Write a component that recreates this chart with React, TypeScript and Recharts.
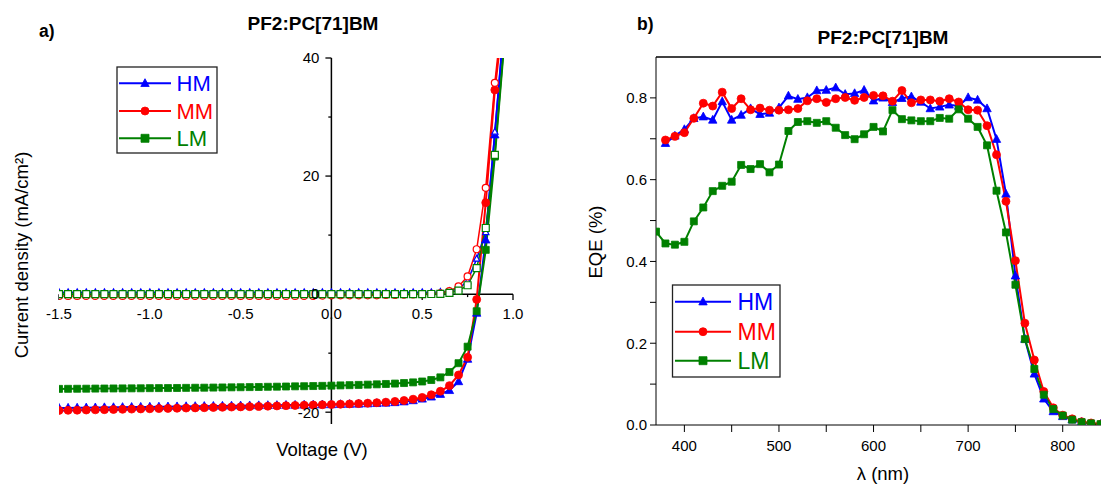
import React from 'react';
import { LineChart, Line, XAxis, YAxis, ReferenceLine } from 'recharts';

// ---- a) J-V curves ----
const voltage = [
  -1.5, -1.45, -1.4, -1.35, -1.3, -1.25, -1.2, -1.15, -1.1, -1.05,
  -1.0, -0.95, -0.9, -0.85, -0.8, -0.75, -0.7, -0.65, -0.6, -0.55,
  -0.5, -0.45, -0.4, -0.35, -0.3, -0.25, -0.2, -0.15, -0.1, -0.05,
  0.0, 0.05, 0.1, 0.15, 0.2, 0.25, 0.3, 0.35, 0.4, 0.45,
  0.5, 0.55, 0.6, 0.65, 0.7, 0.75, 0.8, 0.85, 0.9, 0.95,
];
const hmLight = [
  -19.3, -19.28, -19.26, -19.24, -19.22, -19.2, -19.18, -19.16, -19.14, -19.12,
  -19.1, -19.08, -19.06, -19.04, -19.02, -19.0, -18.98, -18.96, -18.94, -18.92,
  -18.9, -18.88, -18.86, -18.84, -18.82, -18.8, -18.78, -18.76, -18.74, -18.72,
  -18.7, -18.67, -18.64, -18.6, -18.55, -18.5, -18.43, -18.35, -18.22, -18.02,
  -17.75, -17.4, -16.95, -16.3, -14.8, -11.0, -3.2, 9.2, 27.0, 45.0,
];
const mmLight = [
  -19.7, -19.68, -19.66, -19.63, -19.6, -19.57, -19.54, -19.51, -19.48, -19.45,
  -19.42, -19.39, -19.36, -19.33, -19.3, -19.27, -19.24, -19.2, -19.17, -19.13,
  -19.1, -19.06, -19.02, -18.98, -18.94, -18.9, -18.86, -18.82, -18.78, -18.74,
  -18.7, -18.65, -18.6, -18.54, -18.47, -18.39, -18.3, -18.18, -18.02, -17.8,
  -17.5, -17.05, -16.45, -15.5, -13.7, -10.7, -0.9, 15.5, 34.6, 48.0,
];
const lmLight = [
  -16.05, -16.04, -16.03, -16.02, -16.0, -15.99, -15.98, -15.97, -15.96, -15.95,
  -15.93, -15.92, -15.91, -15.9, -15.88, -15.86, -15.85, -15.83, -15.81, -15.79,
  -15.77, -15.75, -15.73, -15.7, -15.68, -15.65, -15.62, -15.6, -15.57, -15.54,
  -15.5, -15.46, -15.42, -15.38, -15.33, -15.28, -15.22, -15.15, -15.06, -14.95,
  -14.8, -14.55, -14.1, -13.2, -11.7, -8.9, -2.9, 7.5, 23.3, 41.8,
];
const hmDark = [
  0.3, 0.3, 0.3, 0.3, 0.3, 0.3, 0.3, 0.3, 0.3, 0.3,
  0.3, 0.3, 0.3, 0.3, 0.3, 0.3, 0.3, 0.3, 0.3, 0.3,
  0.3, 0.3, 0.3, 0.3, 0.3, 0.3, 0.3, 0.3, 0.3, 0.3,
  0.3, 0.3, 0.3, 0.3, 0.3, 0.3, 0.3, 0.3, 0.3, 0.3,
  0.3, 0.3, 0.35, 0.5, 0.9, 2.2, 6.0, 10.5, 27.5, 46.0,
];
const mmDark = [
  -0.3, -0.3, -0.3, -0.3, -0.3, -0.3, -0.3, -0.3, -0.3, -0.3,
  -0.3, -0.3, -0.3, -0.3, -0.3, -0.3, -0.3, -0.3, -0.3, -0.3,
  -0.3, -0.3, -0.3, -0.3, -0.3, -0.3, -0.3, -0.3, -0.3, -0.25,
  -0.2, -0.2, -0.2, -0.2, -0.2, -0.2, -0.15, -0.15, -0.1, -0.05,
  0.0, 0.05, 0.15, 0.5, 1.3, 3.0, 7.6, 18.0, 35.8, 50.0,
];
const lmDark = [
  0.0, 0.0, 0.0, 0.0, 0.0, 0.0, 0.0, 0.0, 0.0, 0.0,
  0.0, 0.0, 0.0, 0.0, 0.0, 0.0, 0.0, 0.0, 0.0, 0.0,
  0.0, 0.0, 0.0, 0.0, 0.0, 0.0, 0.0, 0.0, 0.0, 0.0,
  0.0, 0.0, 0.0, 0.0, 0.0, 0.0, 0.0, 0.0, 0.0, 0.0,
  0.0, 0.02, 0.05, 0.2, 0.6, 1.5, 4.4, 11.2, 23.6, 42.0,
];
const jvXTicks = [-1.5, -1.0, -0.5, 0.0, 0.5, 1.0];
const jvXMinor = [-1.25, -0.75, -0.25, 0.25, 0.75];
const jvYTicks = [40, 20, 0, -20];
const jvYMinor = [30, 10, -10];

// ---- b) EQE spectra ----
const wavelength = [
  370, 380, 390, 400, 410, 420, 430, 440, 450, 460, 470, 480, 490, 500, 510, 520,
  530, 540, 550, 560, 570, 580, 590, 600, 610, 620, 630, 640, 650, 660, 670, 680,
  690, 700, 710, 720, 730, 740, 750, 760, 770, 780, 790, 800, 810, 820, 830, 840,
];
const hmEqe = [
  null, 0.689, 0.707, 0.723, 0.75, 0.754, 0.746, 0.791, 0.746, 0.758, 0.774, 0.76, 0.763, 0.776, 0.805, 0.797,
  0.801, 0.818, 0.819, 0.825, 0.809, 0.811, 0.819, 0.793, 0.8, 0.789, 0.799, 0.803, 0.79, 0.774, 0.778, 0.783,
  0.78, 0.801, 0.795, 0.774, 0.699, 0.565, 0.365, 0.21, 0.125, 0.064, 0.033, 0.021, 0.013, 0.007, 0.003, 0.002,
];
const mmEqe = [
  null, 0.697, 0.706, 0.715, 0.75, 0.787, 0.78, 0.814, 0.774, 0.798, 0.771, 0.775, 0.77, 0.77, 0.771, 0.774,
  0.793, 0.798, 0.789, 0.798, 0.801, 0.794, 0.801, 0.806, 0.805, 0.792, 0.818, 0.788, 0.795, 0.795, 0.792, 0.798,
  0.79, 0.771, 0.77, 0.732, 0.661, 0.547, 0.402, 0.249, 0.159, 0.082, 0.042, 0.024, 0.015, 0.008, 0.005, 0.002,
];
const lmEqe = [
  0.473, 0.444, 0.441, 0.448, 0.498, 0.532, 0.572, 0.585, 0.595, 0.636, 0.626, 0.638, 0.618, 0.637, 0.719, 0.741,
  0.743, 0.739, 0.743, 0.727, 0.709, 0.699, 0.711, 0.729, 0.718, 0.77, 0.748, 0.745, 0.743, 0.743, 0.751, 0.749,
  0.772, 0.749, 0.729, 0.684, 0.573, 0.471, 0.343, 0.21, 0.137, 0.074, 0.039, 0.023, 0.013, 0.007, 0.004, 0.002,
];
const eqeXTicks = [400, 450, 500, 550, 600, 650, 700, 750, 800, 850];
const eqeYTicks = [0, 0.1, 0.2, 0.3, 0.4, 0.5, 0.6, 0.7, 0.8];

const seriesNames = ['HM', 'MM', 'LM'];

const BLUE = '#0000ff';
const RED = '#ff0000';
const GREEN = '#008000';
const FONT = '"Liberation Sans", Arial, Helvetica, sans-serif';

type Shape = 'triangle' | 'circle' | 'square';
const seriesStyle: [string, Shape][] = [[BLUE, 'triangle'], [RED, 'circle'], [GREEN, 'square']];

const markerPath = (shape: Shape, cx: number, cy: number, s: number) => {
  const h = s / 2;
  if (shape === 'square') return `M${cx - h},${cy - h}h${s}v${s}h${-s}Z`;
  if (shape === 'triangle') return `M${cx},${cy - h * 1.15}L${cx + h * 1.05},${cy + h * 0.8}L${cx - h * 1.05},${cy + h * 0.8}Z`;
  return `M${cx - h},${cy}a${h},${h} 0 1,0 ${s},0a${h},${h} 0 1,0 ${-s},0`;
};

const makeDot = (shape: Shape, color: string, filled: boolean, size: number) => (p: any) => {
  const { cx, cy, index, value } = p;
  if (cx == null || cy == null || value == null) return <g key={`e-${index}`} />;
  return (
    <path
      key={`m-${index}`}
      d={markerPath(shape, cx, cy, size)}
      fill={filled ? color : '#fff'}
      stroke={color}
      strokeWidth={filled ? 0.8 : 1.2}
    />
  );
};

const jvData = voltage.map((v, i) => ({
  v,
  hmLight: hmLight[i],
  mmLight: mmLight[i],
  lmLight: lmLight[i],
  hmDark: hmDark[i],
  mmDark: mmDark[i],
  lmDark: lmDark[i],
}));

const eqeData = wavelength.map((w, i) => ({ w, hm: hmEqe[i], mm: mmEqe[i], lm: lmEqe[i] }));

// legend drawn as a small svg group: box, sample line + marker, coloured name
const LegendBox = ({ x, y, w, h, lineX1, lineX2, textX, rowY, fontSize }: any) => (
  <g>
    <rect x={x} y={y} width={w} height={h} fill="#fff" stroke="#222" strokeWidth={1.3} />
    {seriesNames.map((name, i) => {
      const [color, shape] = seriesStyle[i];
      const ly = rowY[i];
      return (
        <g key={name}>
          <line x1={lineX1} y1={ly} x2={lineX2} y2={ly} stroke={color} strokeWidth={2} />
          <path d={markerPath(shape, (lineX1 + lineX2) / 2, ly, 8)} fill={color} stroke={color} strokeWidth={0.8} />
          <text x={textX} y={ly + fontSize * 0.358} fill={color} fontSize={fontSize} fontFamily={FONT}>{name}</text>
        </g>
      );
    })}
  </g>
);

const tickLabel = (value: string, position: 'bottom' | 'left') => ({
  value, position, offset: position === 'bottom' ? 8 : 6, fill: '#000', fontSize: 15, fontFamily: FONT,
});

export default function App() {
  return (
    <div style={{ position: 'fixed', left: 0, top: 0, width: 1101, height: 485, overflow: 'hidden', background: '#fff' }}>
      {/* a) J-V */}
      <div style={{ position: 'absolute', left: 0, top: 0 }}>
        <LineChart width={550} height={485} data={jvData} margin={{ top: 58, right: 37, bottom: 61, left: 59 }}>
          <XAxis dataKey="v" type="number" domain={[-1.5, 1.0]} hide allowDataOverflow />
          <YAxis type="number" domain={[-22, 40]} hide allowDataOverflow />
          <ReferenceLine y={0} stroke="#000" strokeWidth={1.5} />
          <ReferenceLine x={0} stroke="#000" strokeWidth={1.5} />
          {jvXTicks.map(t => (
            <ReferenceLine key={`xt${t}`} segment={[{ x: t, y: 0 }, { x: t, y: -1.0 }]} stroke="#000" strokeWidth={1.3}
              label={tickLabel(t.toFixed(1), 'bottom')} />
          ))}
          {jvXMinor.map(t => (
            <ReferenceLine key={`xm${t}`} segment={[{ x: t, y: 0 }, { x: t, y: -0.5 }]} stroke="#000" strokeWidth={1.3} />
          ))}
          {jvYTicks.map(t => (
            <ReferenceLine key={`yt${t}`} segment={[{ x: 0, y: t }, { x: -0.033, y: t }]} stroke="#000" strokeWidth={1.3}
              label={tickLabel(String(t), 'left')} />
          ))}
          {jvYMinor.map(t => (
            <ReferenceLine key={`ym${t}`} segment={[{ x: 0, y: t }, { x: -0.017, y: t }]} stroke="#000" strokeWidth={1.3} />
          ))}
          <Line dataKey="hmLight" stroke={BLUE} strokeWidth={2} dot={makeDot('triangle', BLUE, true, 8)} isAnimationActive={false} />
          <Line dataKey="mmLight" stroke={RED} strokeWidth={2} dot={makeDot('circle', RED, true, 8)} isAnimationActive={false} />
          <Line dataKey="lmLight" stroke={GREEN} strokeWidth={2} dot={makeDot('square', GREEN, true, 7)} isAnimationActive={false} />
          <Line dataKey="hmDark" stroke={BLUE} strokeWidth={1.5} dot={makeDot('triangle', BLUE, false, 6)} isAnimationActive={false} />
          <Line dataKey="mmDark" stroke={RED} strokeWidth={1.5} dot={makeDot('circle', RED, false, 7)} isAnimationActive={false} />
          <Line dataKey="lmDark" stroke={GREEN} strokeWidth={1.5} dot={makeDot('square', GREEN, false, 7)} isAnimationActive={false} />
        </LineChart>
      </div>

      {/* b) EQE */}
      <div style={{ position: 'absolute', left: 550, top: 0 }}>
        <LineChart width={575} height={485} data={eqeData} margin={{ top: 57, right: 15, bottom: 30, left: 46 }}>
          <XAxis dataKey="w" type="number" domain={[370, 850]} ticks={eqeXTicks} allowDataOverflow
            height={30} stroke="#000" tickSize={7} tickMargin={8}
            tick={{ fill: '#000', fontSize: 15, fontFamily: FONT }}
            tickFormatter={(v: number) => (v % 100 === 0 ? String(v) : '')} />
          <YAxis type="number" domain={[0, 0.9]} ticks={eqeYTicks} allowDataOverflow
            width={60} stroke="#000" tickSize={6} tickMargin={3}
            tick={{ fill: '#000', fontSize: 15, fontFamily: FONT }}
            tickFormatter={(v: number) => (Math.round(v * 10) % 2 === 0 ? v.toFixed(1) : '')} />
          <ReferenceLine y={0.9} stroke="#000" strokeWidth={1.3} />
          <Line dataKey="hm" stroke={BLUE} strokeWidth={2} dot={makeDot('triangle', BLUE, true, 8)} isAnimationActive={false} />
          <Line dataKey="mm" stroke={RED} strokeWidth={2} dot={makeDot('circle', RED, true, 8)} isAnimationActive={false} />
          <Line dataKey="lm" stroke={GREEN} strokeWidth={2} dot={makeDot('square', GREEN, true, 7)} isAnimationActive={false} />
        </LineChart>
      </div>

      {/* titles, axis labels, legends */}
      <svg width={1101} height={485} style={{ position: 'absolute', left: 0, top: 0, pointerEvents: 'none' }}>
        <g fontFamily={FONT} fill="#000">
          <text x={39} y={36.5} fontSize={17.5} fontWeight="bold">a)</text>
          <text x={313} y={30} fontSize={19} fontWeight="bold" textAnchor="middle">PF2:PC[71]BM</text>
          <text x={637} y={30} fontSize={17.5} fontWeight="bold">b)</text>
          <text x={883} y={44} fontSize={19} fontWeight="bold" textAnchor="middle">PF2:PC[71]BM</text>

          <text transform="translate(27.5,255) rotate(-90)" fontSize={18.5} textAnchor="middle">Current density (mA/cm²)</text>
          <text x={322} y={456} fontSize={18.5} textAnchor="middle">Voltage (V)</text>
          <text transform="translate(602,242) rotate(-90)" fontSize={18.5} textAnchor="middle">EQE (%)</text>
          <text x={883} y={480} fontSize={18.5} textAnchor="middle">λ (nm)</text>
        </g>
        <LegendBox x={117} y={67} w={100} h={86} lineX1={119} lineX2={171} textX={176.5}
          rowY={[83.3, 111, 138.3]} fontSize={22} />
        <LegendBox x={672.5} y={285} w={107.5} h={92} lineX1={675} lineX2={731} textX={737.5}
          rowY={[301.7, 331.7, 360.7]} fontSize={23} />
      </svg>
    </div>
  );
}
